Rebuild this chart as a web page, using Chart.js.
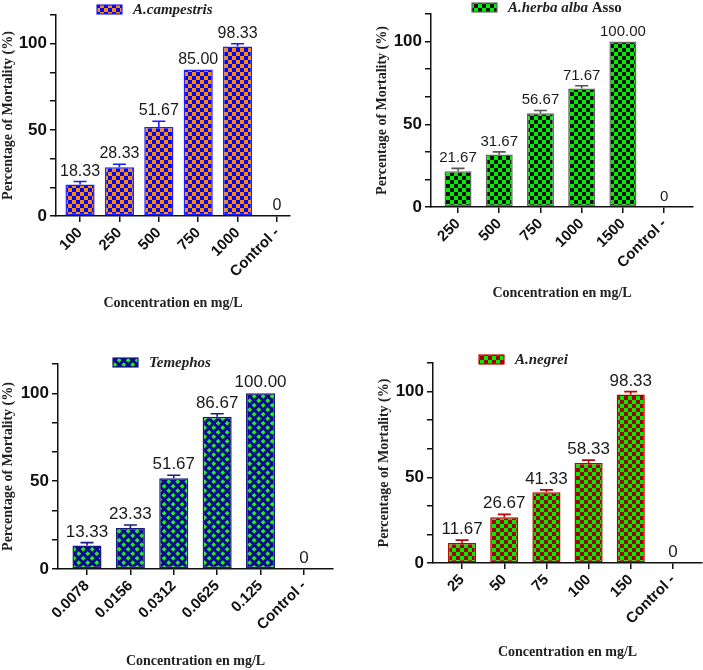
<!DOCTYPE html>
<html lang="en">
<head>
  <meta charset="UTF-8" />
  <title>Percentage of Mortality</title>
  <script src="https://cdn.jsdelivr.net/npm/chart.js"></script>
  <style>
    body {
      margin: 0;
      background: #ffffff;
      width: 703px;
      height: 670px;
      position: relative;
      overflow: hidden;
    }
    canvas { position: absolute; }
  </style>
</head>
<body>
  <script>
    // data
    const campestrisDoses = ["100", "250", "500", "750", "1000", "Control -"];
    const campestrisMortality = [18.33, 28.33, 51.67, 85.00, 98.33, 0];
    const campestrisError = [1.67, 1.67, 3.33, 0, 1.67, 0];

    const herbaDoses = ["250", "500", "750", "1000", "1500", "Control -"];
    const herbaMortality = [21.67, 31.67, 56.67, 71.67, 100.00, 0];
    const herbaError = [1.67, 1.67, 1.67, 1.67, 0, 0];

    const temephosDoses = ["0.0078", "0.0156", "0.0312", "0.0625", "0.125", "Control -"];
    const temephosMortality = [13.33, 23.33, 51.67, 86.67, 100.00, 0];
    const temephosError = [1.67, 1.67, 1.67, 1.67, 0, 0];

    const negreiDoses = ["25", "50", "75", "100", "150", "Control -"];
    const negreiMortality = [11.67, 26.67, 41.33, 58.33, 98.33, 0];
    const negreiError = [1.67, 1.67, 1.33, 1.67, 1.67, 0];

    const yTickValues = [0, 16.67, 33.33, 50, 66.67, 83.33, 100, 116.67];
    const yLabelled = [0, 50, 100];

    const xTitle = "Concentration en mg/L";
    const yTitle = "Percentage of Mortality (%)";

    // fill patterns
    function checker(a, b, cell) {
      const c = document.createElement("canvas");
      c.width = c.height = cell * 2;
      const g = c.getContext("2d");
      g.fillStyle = a;
      g.fillRect(0, 0, cell * 2, cell * 2);
      g.fillStyle = b;
      g.fillRect(0, 0, cell, cell);
      g.fillRect(cell, cell, cell, cell);
      return g.createPattern(c, "repeat");
    }

    function diamonds(bg, dot) {
      const c = document.createElement("canvas");
      c.width = c.height = 9;
      const g = c.getContext("2d");
      g.fillStyle = bg;
      g.fillRect(0, 0, 9, 9);
      g.fillStyle = dot;
      [[2.25, 2.25], [6.75, 6.75]].forEach(([x, y]) => {
        g.beginPath();
        g.moveTo(x, y - 2.4);
        g.lineTo(x + 2.4, y);
        g.lineTo(x, y + 2.4);
        g.lineTo(x - 2.4, y);
        g.closePath();
        g.fill();
      });
      return g.createPattern(c, "repeat");
    }

    const panels = [
      {
        labels: campestrisDoses, values: campestrisMortality, errors: campestrisError,
        box: { l: 0, t: 0, w: 351, h: 312 }, area: { L: 56, T: 15, R: 290, B: 216 },
        xMin: -0.61, xMax: 5.33, barPct: 0.74,
        fill: checker("#0000ff", "#ff8c00", 4), edge: "#2020ff", errColor: "#1a1aff",
        valueFont: 16,
        legend: { x: 97, y: 5, parts: [{ t: "A.campestris", italic: true }] }
      },
      {
        labels: herbaDoses, values: herbaMortality, errors: herbaError,
        box: { l: 374, t: 0, w: 329, h: 302 }, area: { L: 431, T: 14, R: 693, B: 207 },
        xMin: -0.655, xMax: 5.7, barPct: 0.655,
        fill: checker("#00ee00", "#111111", 4), edge: "#666666", errColor: "#555555",
        valueFont: 15,
        legend: { x: 472, y: 3, parts: [{ t: "A.herba alba", italic: true }, { t: " Asso", italic: false }] }
      },
      {
        labels: temephosDoses, values: temephosMortality, errors: temephosError,
        box: { l: 0, t: 340, w: 350, h: 330 }, area: { L: 58, T: 364, R: 333, B: 569 },
        xMin: -0.668, xMax: 5.67, barPct: 0.67,
        fill: diamonds("#0a0a8c", "#22ee22"), edge: "#1a1a80", errColor: "#1a1a80",
        valueFont: 17,
        legend: { x: 113, y: 358, parts: [{ t: "Temephos", italic: true }] }
      },
      {
        labels: negreiDoses, values: negreiMortality, errors: negreiError,
        box: { l: 376, t: 340, w: 327, h: 321 }, area: { L: 433, T: 363, R: 702, B: 563 },
        xMin: -0.69, xMax: 5.69, barPct: 0.667,
        fill: checker("#00ee00", "#a00000", 4), edge: "#c00000", errColor: "#c00000",
        valueFont: 17,
        legend: { x: 479, y: 355, parts: [{ t: "A.negrei", italic: true }] }
      }
    ];

    // error caps, value labels and the one-entry legend
    const extras = {
      id: "extras",
      afterDatasetsDraw(chart, args, p) {
        const ctx = chart.ctx;
        const y = chart.scales.y;
        const bars = chart.getDatasetMeta(0).data;
        ctx.save();
        bars.forEach((bar, i) => {
          const v = p.values[i];
          const capY = y.getPixelForValue(v + p.errors[i]);
          if (p.errors[i] > 0) {
            ctx.strokeStyle = p.errColor;
            ctx.lineWidth = 1.6;
            ctx.beginPath();
            ctx.moveTo(bar.x, bar.y);
            ctx.lineTo(bar.x, capY);
            ctx.moveTo(bar.x - 6.5, capY);
            ctx.lineTo(bar.x + 6.5, capY);
            ctx.stroke();
          }
          ctx.fillStyle = "#1a1a1a";
          ctx.font = p.valueFont + "px 'Liberation Sans', Arial, sans-serif";
          ctx.textAlign = "center";
          ctx.textBaseline = "alphabetic";
          ctx.fillText(v === 0 ? "0" : v.toFixed(2), bar.x, capY - 6);
        });
        ctx.restore();
      },
      afterDraw(chart, args, p) {
        const ctx = chart.ctx;
        const lx = p.legend.x - p.box.l;
        const ly = p.legend.y - p.box.t;
        ctx.save();
        ctx.fillStyle = p.fill;
        ctx.fillRect(lx, ly, 25, 9);
        ctx.strokeStyle = p.edge;
        ctx.lineWidth = 1.2;
        ctx.strokeRect(lx, ly, 25, 9);
        let tx = lx + 36;
        ctx.fillStyle = "#222222";
        ctx.textBaseline = "middle";
        ctx.textAlign = "left";
        p.legend.parts.forEach((part) => {
          ctx.font = (part.italic ? "italic " : "") + "bold 15px 'Liberation Serif', 'Times New Roman', serif";
          ctx.fillText(part.t, tx, ly + 5);
          tx += ctx.measureText(part.t).width;
        });
        ctx.restore();
      }
    };

    panels.forEach((p) => {
      const canvas = document.createElement("canvas");
      canvas.width = p.box.w;
      canvas.height = p.box.h;
      canvas.style.left = p.box.l + "px";
      canvas.style.top = p.box.t + "px";
      document.body.appendChild(canvas);
      const a = p.area;

      new Chart(canvas, {
        type: "bar",
        data: {
          datasets: [{
            data: p.values.map((v, i) => ({ x: i, y: v })),
            backgroundColor: p.fill,
            borderColor: p.edge,
            borderWidth: (c) => (c.raw && c.raw.y === 0 ? 0 : 1.5),
            borderSkipped: false,
            barPercentage: p.barPct,
            categoryPercentage: 1
          }]
        },
        options: {
          responsive: false,
          animation: false,
          events: [],
          layout: {
            padding: { left: 0, top: a.T - p.box.t, right: p.box.l + p.box.w - a.R, bottom: 0 }
          },
          plugins: {
            legend: { display: false },
            tooltip: { enabled: false },
            extras: p
          },
          scales: {
            x: {
              type: "linear",
              offset: false,
              min: p.xMin,
              max: p.xMax,
              afterFit: (s) => { s.height = p.box.t + p.box.h - a.B; },
              afterBuildTicks: (s) => { s.ticks = p.labels.map((_, i) => ({ value: i })); },
              ticks: {
                callback: (v) => p.labels[v],
                minRotation: 45,
                maxRotation: 45,
                autoSkip: false,
                padding: 2,
                color: "#111111",
                font: { family: "'Liberation Sans', Arial, sans-serif", size: 15, weight: "bold" }
              },
              grid: { drawOnChartArea: false, drawTicks: true, tickLength: 6, color: "#111111", lineWidth: 1.5, offset: false },
              border: { display: true, color: "#111111", width: 1.5 },
              title: {
                display: true,
                text: xTitle,
                padding: 0,
                color: "#222222",
                font: { family: "'Liberation Serif', 'Times New Roman', serif", size: 14, weight: "bold" }
              }
            },
            y: {
              min: 0,
              max: 116.67,
              afterFit: (s) => { s.width = a.L - p.box.l; },
              afterBuildTicks: (s) => { s.ticks = yTickValues.map((v) => ({ value: v })); },
              ticks: {
                callback: (v) => (yLabelled.includes(v) ? String(v) : ""),
                padding: 3,
                color: "#111111",
                font: { family: "'Liberation Sans', Arial, sans-serif", size: 17, weight: "bold" }
              },
              grid: { drawOnChartArea: false, drawTicks: true, tickLength: 6, color: "#111111", lineWidth: 1.5 },
              border: { display: true, color: "#111111", width: 1.5 },
              title: {
                display: true,
                text: yTitle,
                padding: 0,
                color: "#222222",
                font: { family: "'Liberation Serif', 'Times New Roman', serif", size: 14, weight: "bold" }
              }
            }
          }
        },
        plugins: [extras]
      });
    });
  </script>
</body>
</html>
